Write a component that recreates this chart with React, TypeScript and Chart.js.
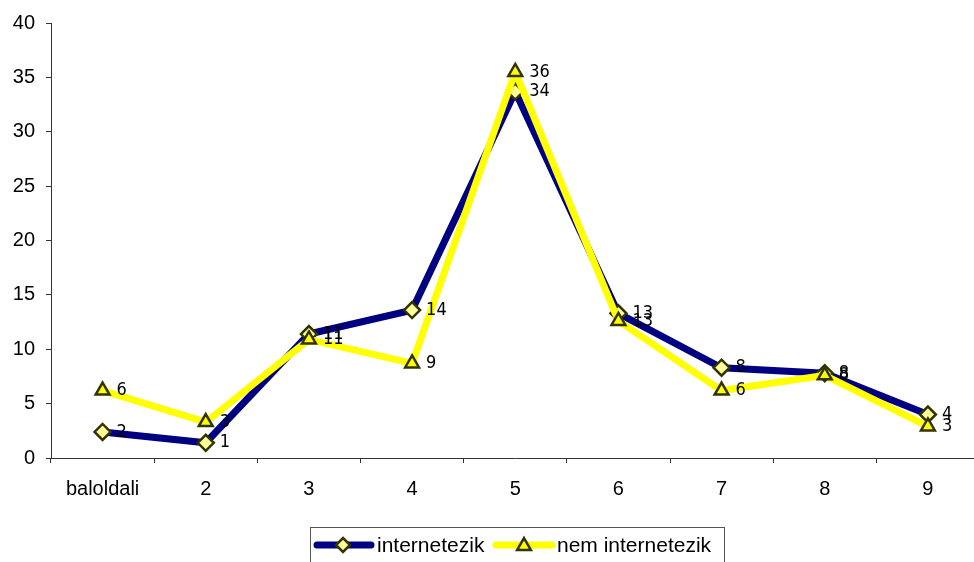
import React, { useEffect, useRef } from 'react';
import { Chart, registerables } from 'chart.js';

Chart.register(...registerables);

const categories = ['baloldali', '2', '3', '4', '5', '6', '7', '8', '9'];
const internetezik = [2.4, 1.4, 11.4, 13.6, 33.7, 13.3, 8.3, 7.8, 4.0];
const nemInternetezik = [6.2, 3.3, 10.9, 8.7, 35.5, 12.6, 6.2, 7.6, 2.9];
const seriesNames = ['internetezik', 'nem internetezik'];
const yMin = 0;
const yMax = 40;
const yStep = 5;

const NAVY = '#000080';
const YELLOW = '#FFFF00';
const MARKER_BORDER = '#333300';
const FONT = '"Liberation Sans", Arial, sans-serif';
const LABEL_FONT = '"Liberation Sans Narrow", "DejaVu Sans Condensed", "Liberation Sans", Arial, sans-serif';

function drawDiamond(ctx: CanvasRenderingContext2D, x: number, y: number, r: number) {
  ctx.beginPath();
  ctx.moveTo(x, y - r);
  ctx.lineTo(x + r, y);
  ctx.lineTo(x, y + r);
  ctx.lineTo(x - r, y);
  ctx.closePath();
  ctx.fillStyle = '#FFFF99';
  ctx.fill();
  ctx.lineWidth = 2.5;
  ctx.strokeStyle = MARKER_BORDER;
  ctx.stroke();
}

function drawTriangle(ctx: CanvasRenderingContext2D, x: number, y: number, r: number) {
  ctx.beginPath();
  ctx.moveTo(x, y - r);
  ctx.lineTo(x + r * 0.866, y + r * 0.5);
  ctx.lineTo(x - r * 0.866, y + r * 0.5);
  ctx.closePath();
  ctx.fillStyle = YELLOW;
  ctx.fill();
  ctx.lineWidth = 2.5;
  ctx.strokeStyle = MARKER_BORDER;
  ctx.stroke();
}

const valueLabels = {
  id: 'valueLabels',
  afterDatasetsDraw(chart: any) {
    const ctx = chart.ctx as CanvasRenderingContext2D;
    ctx.save();
    ctx.font = '18px ' + LABEL_FONT;
    ctx.fillStyle = '#000';
    ctx.textAlign = 'left';
    ctx.textBaseline = 'middle';
    chart.data.datasets.forEach((ds: any, i: number) => {
      const meta = chart.getDatasetMeta(i);
      meta.data.forEach((pt: any, j: number) => {
        ctx.fillText(String(Math.round(ds.data[j])), pt.x + 14, pt.y);
      });
    });
    ctx.restore();
  },
};

const boxLegend = {
  id: 'boxLegend',
  afterDraw(chart: any) {
    const ctx = chart.ctx as CanvasRenderingContext2D;
    ctx.save();
    ctx.strokeStyle = '#555';
    ctx.lineWidth = 1;
    ctx.strokeRect(310.5, 527.5, 414, 60);
    const y = 545;
    ctx.lineCap = 'round';
    ctx.lineWidth = 7;
    ctx.strokeStyle = NAVY;
    ctx.beginPath();
    ctx.moveTo(317, y);
    ctx.lineTo(371, y);
    ctx.stroke();
    drawDiamond(ctx, 343, y, 7);
    ctx.lineCap = 'round';
    ctx.lineWidth = 7;
    ctx.strokeStyle = YELLOW;
    ctx.beginPath();
    ctx.moveTo(496, y);
    ctx.lineTo(552, y);
    ctx.stroke();
    drawTriangle(ctx, 524, y + 1, 8);
    ctx.font = '21px ' + FONT;
    ctx.fillStyle = '#000';
    ctx.textAlign = 'left';
    ctx.textBaseline = 'middle';
    ctx.fillText(seriesNames[0], 377, y + 1);
    ctx.fillText(seriesNames[1], 557, y + 1);
    ctx.restore();
  },
};

export default function App() {
  const ref = useRef<HTMLCanvasElement | null>(null);
  useEffect(() => {
    if (!ref.current) return;
    const chart = new Chart(ref.current, {
      type: 'line',
      data: {
        labels: categories,
        datasets: [
          {
            label: seriesNames[0],
            data: internetezik,
            borderColor: NAVY,
            borderWidth: 7,
            pointStyle: 'rectRot',
            pointRadius: 8,
            pointBackgroundColor: '#FFFF99',
            pointBorderColor: MARKER_BORDER,
            pointBorderWidth: 2.5,
            tension: 0,
            order: 1,
          },
          {
            label: seriesNames[1],
            data: nemInternetezik,
            borderColor: YELLOW,
            borderWidth: 7,
            pointStyle: 'triangle',
            pointRadius: 8,
            pointBackgroundColor: YELLOW,
            pointBorderColor: MARKER_BORDER,
            pointBorderWidth: 2.5,
            tension: 0,
            order: 0,
          },
        ],
      },
      options: {
        animation: false,
        responsive: false,
        devicePixelRatio: 1,
        layout: { padding: { left: 0, right: 7, top: 17, bottom: 0 } },
        plugins: {
          legend: { display: false },
          tooltip: { enabled: false },
        },
        scales: {
          x: {
            offset: true,
            border: { display: true, color: '#333', width: 1 },
            grid: { display: true, drawOnChartArea: false, drawTicks: true, tickLength: 5, offset: true, color: '#333' },
            ticks: { color: '#000', font: { family: FONT, size: 20 }, padding: 14, maxRotation: 0, autoSkip: false },
            afterFit: (s: any) => { s.height = 104; },
          },
          y: {
            min: yMin,
            max: yMax,
            border: { display: true, color: '#333', width: 1 },
            grid: { display: true, drawOnChartArea: false, drawTicks: true, tickLength: 5, color: '#333' },
            ticks: { stepSize: yStep, color: '#000', font: { family: FONT, size: 20 }, padding: 11 },
            afterFit: (s: any) => { s.width = 51; },
          },
        },
      },
      plugins: [valueLabels, boxLegend],
    });
    return () => chart.destroy();
  }, []);
  return (
    <div style={{ position: 'fixed', left: 0, top: 0, width: 974, height: 562, overflow: 'hidden', background: '#fff' }}>
      <canvas ref={ref} width={990} height={562} style={{ display: 'block', width: 990, height: 562 }} />
    </div>
  );
}
